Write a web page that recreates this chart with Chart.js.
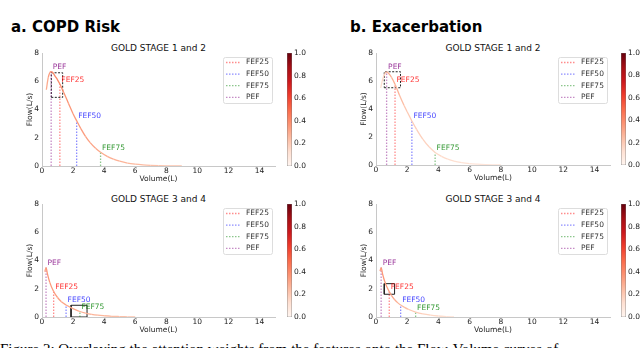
<!DOCTYPE html>
<html><head><meta charset="utf-8">
<script src="https://cdn.jsdelivr.net/npm/chart.js@4"></script>
<style>
body{margin:0;width:640px;height:348px;overflow:hidden;background:#fff;position:relative;font-family:"DejaVu Sans"}
canvas{position:absolute}
.h{position:absolute;font:bold 15px "DejaVu Sans";line-height:15px;color:#000;white-space:nowrap}
.t{position:absolute;font:9px "DejaVu Sans";line-height:9px;color:#111;white-space:nowrap;transform:translate(-50%,-50%)}
.cap{position:absolute;left:0;top:342px;font:15px "Liberation Serif";line-height:15px;white-space:nowrap;color:#000}
</style></head><body>
<div class="h" style="left:11px;top:20px">a. COPD Risk</div>
<div class="h" style="left:350px;top:20px">b. Exacerbation</div>
<div class="t" style="left:158.5px;top:48px">GOLD STAGE 1 and 2</div>
<div class="t" style="left:493px;top:48px">GOLD STAGE 1 and 2</div>
<div class="t" style="left:158.5px;top:199px">GOLD STAGE 3 and 4</div>
<div class="t" style="left:493px;top:199px">GOLD STAGE 3 and 4</div>
<div class="cap">Figure 2: Overlaying the attention weights from the features onto the Flow-Volume curves of</div>

<canvas id="cA1" width="285" height="150" style="left:0;top:40px"></canvas>
<canvas id="cA2" width="285" height="150" style="left:0;top:190px"></canvas>
<canvas id="cB1" width="281" height="150" style="left:334px;top:40px"></canvas>
<canvas id="cB2" width="281" height="150" style="left:334px;top:190px"></canvas>
<canvas id="kA1" width="40" height="140" style="left:283px;top:40px"></canvas>
<canvas id="kA2" width="40" height="140" style="left:283px;top:190px"></canvas>
<canvas id="kB1" width="40" height="140" style="left:617px;top:40px"></canvas>
<canvas id="kB2" width="40" height="140" style="left:617px;top:190px"></canvas>

<script>
// ---------- data ----------
const markerNames = ['FEF25','FEF50','FEF75','PEF'];
const xTicks = [0,2,4,6,8,10,12,14];
const yTicks = [0,2,4,6,8];
const colorbarTicks = [0,0.2,0.4,0.6,0.8,1.0];

// a. COPD Risk, GOLD 1-2
const volA1  = [0.28,0.4,0.5,0.59,0.7,0.85,1.0,1.15,1.4,1.7,2.0,2.23,2.5,2.8,3.1,3.45,3.77,4.2,4.6,5.0,5.5,6.0,6.5,7.0,7.5,8.0,8.5,9.0];
const flowA1 = [5.4,6.25,6.6,6.68,6.6,6.35,6.1,5.8,5.2,4.45,3.7,3.2,2.65,2.1,1.65,1.25,0.97,0.68,0.48,0.34,0.21,0.13,0.08,0.05,0.03,0.015,0.005,0];
const attnA1 = [0.3,0.34,0.37,0.4,0.4,0.4,0.4,0.38,0.37,0.36,0.35,0.35,0.34,0.33,0.32,0.31,0.3,0.29,0.28,0.27,0.26,0.25,0.24,0.23,0.22,0.22,0.22,0.22];
const markXA1 = [1.15,2.23,3.77,0.59];
const markYA1 = [5.8,3.2,0.97,6.68];
const boxA1 = [0.6,1.33,4.86,6.6];

// a. COPD Risk, GOLD 3-4
const volA2  = [0.18,0.26,0.35,0.5,0.75,1.0,1.25,1.55,1.8,2.1,2.44,2.8,3.2,3.6,4.0,4.5,5.0,5.5,6.0];
const flowA2 = [3.2,3.5,3.05,2.45,1.8,1.38,1.08,0.85,0.7,0.54,0.39,0.28,0.19,0.13,0.09,0.05,0.03,0.015,0];
const attnA2 = [0.33,0.36,0.36,0.35,0.34,0.33,0.32,0.31,0.3,0.3,0.29,0.28,0.27,0.26,0.25,0.24,0.23,0.22,0.22];
const markXA2 = [0.75,1.55,2.44,0.26];
const markYA2 = [1.8,0.85,0.39,3.5];
const boxA2 = [1.87,2.9,0,0.83];

// b. Exacerbation, GOLD 1-2
const volB1  = [0.3,0.4,0.5,0.6,0.68,0.8,1.0,1.22,1.5,1.8,2.0,2.3,2.6,3.0,3.4,3.79,4.2,4.6,5.0,5.5,6.0,6.5,7.0,7.5,8.0];
const flowB1 = [5.5,6.0,6.35,6.58,6.65,6.55,6.25,5.76,5.0,4.25,3.8,3.14,2.55,1.85,1.3,0.9,0.62,0.42,0.28,0.17,0.1,0.06,0.03,0.01,0];
const attnB1 = [0.12,0.15,0.2,0.26,0.3,0.3,0.29,0.27,0.24,0.21,0.2,0.19,0.18,0.17,0.16,0.15,0.14,0.13,0.12,0.11,0.1,0.1,0.1,0.1,0.1];
const markXB1 = [1.22,2.3,3.79,0.68];
const markYB1 = [5.76,3.14,0.9,6.65];
const boxB1 = [0.53,1.57,5.52,6.66];

// b. Exacerbation, GOLD 3-4
const volB2  = [0.26,0.33,0.42,0.55,0.7,0.85,1.0,1.2,1.4,1.58,1.8,2.1,2.54,3.0,3.5,4.0,4.5,5.0];
const flowB2 = [3.25,3.5,3.05,2.55,2.12,1.8,1.52,1.22,1.0,0.85,0.7,0.53,0.35,0.22,0.13,0.07,0.03,0];
const attnB2 = [0.33,0.36,0.36,0.35,0.34,0.33,0.31,0.29,0.27,0.25,0.23,0.21,0.19,0.17,0.15,0.13,0.12,0.12];
const markXB2 = [0.85,1.58,2.54,0.33];
const markYB2 = [1.8,0.85,0.35,3.5];
const boxB2 = [0.53,1.19,1.61,2.36];

// ---------- styling ----------
const redsStops = ['#fff5f0','#fee0d2','#fcbba1','#fc9272','#fb6a4a','#ef3b2c','#cb181d','#a50f15','#67000d'];
function hex(c){return [1,3,5].map(i=>parseInt(c.substr(i,2),16));}
function reds(t){
  t=Math.max(0,Math.min(1,t));
  const p=t*(redsStops.length-1), i=Math.min(Math.floor(p),redsStops.length-2), f=p-i;
  const a=hex(redsStops[i]), b=hex(redsStops[i+1]);
  return 'rgb('+a.map((v,k)=>Math.round(v+(b[k]-v)*f)).join(',')+')';
}
const lineColors = ['rgba(255,0,0,0.45)','rgba(0,0,255,0.45)','rgba(0,128,0,0.45)','rgba(128,0,128,0.45)'];
const textColors = ['rgba(255,0,0,0.8)','rgba(0,0,255,0.75)','rgba(0,128,0,0.8)','rgba(128,0,128,0.8)'];
const SMALL = '7.5px "DejaVu Sans"';

const labelPlugin = {
  id:'markLabels',
  afterDatasetsDraw(chart){
    const o=chart.options.plugins.markLabels; if(!o) return;
    const c=chart.ctx, sx=chart.scales.x, sy=chart.scales.y;
    c.save(); c.font=SMALL; c.textBaseline='middle'; c.textAlign='left';
    o.xs.forEach((x,i)=>{
      c.fillStyle=textColors[i];
      c.fillText(markerNames[i], sx.getPixelForValue(x)+1.5, sy.getPixelForValue(o.ys[i])-4.5);
    });
    c.restore();
  }
};
const legendPlugin = {
  id:'boxLegend',
  afterDraw(chart){
    if(!chart.options.plugins.boxLegend) return;
    const c=chart.ctx, a=chart.chartArea;
    const w=49, h=46, x=a.right-3-w, y=a.top+4;
    c.save();
    c.beginPath(); c.roundRect(x+0.5,y+0.5,w,h,2);
    c.fillStyle='rgba(255,255,255,0.85)'; c.fill();
    c.strokeStyle='#dddddd'; c.lineWidth=1; c.stroke();
    c.font=SMALL; c.textBaseline='middle'; c.fillStyle='#333';
    markerNames.forEach((n,i)=>{
      const yy=y+5.5+i*11.6;
      c.beginPath(); c.setLineDash([1.5,1.5]); c.strokeStyle=lineColors[i]; c.lineWidth=1.3;
      c.moveTo(x+3,yy); c.lineTo(x+17,yy); c.stroke();
      c.setLineDash([]);
      c.fillText(n,x+23,yy);
    });
    c.restore();
  }
};

function makePanel(id, vol, flow, attn, mx, my, box, boxDash, pad){
  const datasets=[{
    label:'curve',
    data: vol.map((v,i)=>({x:v,y:flow[i]})),
    borderWidth:1.3, pointRadius:0, cubicInterpolationMode:'monotone',
    borderColor: reds(attn[0]),
    segment:{borderColor: ctx=>reds(attn[ctx.p0DataIndex])}
  }];
  mx.forEach((x,i)=>datasets.push({
    label: markerNames[i],
    data:[{x:x,y:0},{x:x,y:my[i]}],
    borderColor: lineColors[i], borderWidth:1.3, borderDash:[1.5,1.5], pointRadius:0
  }));
  datasets.push({
    label:'box',
    data:[{x:box[0],y:box[2]},{x:box[1],y:box[2]},{x:box[1],y:box[3]},{x:box[0],y:box[3]},{x:box[0],y:box[2]}],
    borderColor:'#222', borderWidth:1, borderDash:boxDash, pointRadius:0
  });
  new Chart(document.getElementById(id),{
    type:'line',
    data:{datasets},
    plugins:[labelPlugin, legendPlugin],
    options:{
      responsive:false, animation:false, events:[],
      layout:{padding:pad},
      plugins:{legend:{display:false}, tooltip:{enabled:false},
        markLabels:{xs:mx, ys:my}, boxLegend:true},
      scales:{
        x:{type:'linear', min:0, max:15,
          afterBuildTicks:s=>{s.ticks=xTicks.map(v=>({value:v}));},
          afterFit:s=>{s.height=18;},
          grid:{display:false, drawTicks:false, tickLength:0}, border:{display:true,color:'#c8c8c8',width:1},
          ticks:{font:{family:'DejaVu Sans',size:7.5}, color:'#222', padding:1, maxRotation:0},
          title:{display:true,text:'Volume(L)',font:{family:'DejaVu Sans',size:7.5},color:'#222',padding:0}},
        y:{type:'linear', min:0, max:8,
          afterBuildTicks:s=>{s.ticks=yTicks.map(v=>({value:v}));},
          afterFit:s=>{s.width=20;},
          grid:{display:false, drawTicks:false, tickLength:0}, border:{display:true,color:'#c8c8c8',width:1},
          ticks:{font:{family:'DejaVu Sans',size:7.5}, color:'#222', padding:3},
          title:{display:true,text:'Flow(L/s)',font:{family:'DejaVu Sans',size:7.5},color:'#222',padding:{top:4,bottom:0}}}
      }
    }
  });
}

function makeColorbar(id, pad){
  new Chart(document.getElementById(id),{
    type:'bar',
    data:{labels:[''], datasets:[{
      data:[1],
      backgroundColor: ctx=>{
        const a=ctx.chart.chartArea; if(!a) return reds(0.5);
        const g=ctx.chart.ctx.createLinearGradient(0,a.bottom,0,a.top);
        redsStops.forEach((c,i)=>g.addColorStop(i/(redsStops.length-1),c));
        return g;
      },
      borderColor:'#777', borderWidth:0.7, borderSkipped:false,
      barPercentage:1, categoryPercentage:1
    }]},
    options:{
      responsive:false, animation:false, events:[],
      layout:{padding:pad},
      plugins:{legend:{display:false}, tooltip:{enabled:false}},
      scales:{
        x:{display:false},
        y:{position:'right', min:0, max:1,
          afterBuildTicks:s=>{s.ticks=colorbarTicks.map(v=>({value:v}));},
          afterFit:s=>{s.width=31;},
          grid:{display:false, drawTicks:false, tickLength:0}, border:{display:false},
          ticks:{font:{family:'DejaVu Sans',size:7.5}, color:'#222', padding:2, callback:v=>v.toFixed(1)}}
      }
    }
  });
}

makePanel('cA1', volA1, flowA1, attnA1, markXA1, markYA1, boxA1, [2,1.5], {left:22,top:13,right:10,bottom:6});
makePanel('cA2', volA2, flowA2, attnA2, markXA2, markYA2, boxA2, [], {left:22,top:14,right:10,bottom:5});
makePanel('cB1', volB1, flowB1, attnB1, markXB1, markYB1, boxB1, [2,1.5], {left:22,top:13,right:5,bottom:7});
makePanel('cB2', volB2, flowB2, attnB2, markXB2, markYB2, boxB2, [], {left:22,top:14,right:5,bottom:5});
makeColorbar('kA1', {left:4,top:13,right:0,bottom:14});
makeColorbar('kA2', {left:4,top:14,right:0,bottom:13});
makeColorbar('kB1', {left:4,top:13,right:0,bottom:15});
makeColorbar('kB2', {left:4,top:14,right:0,bottom:13});
</script>
</body></html>
